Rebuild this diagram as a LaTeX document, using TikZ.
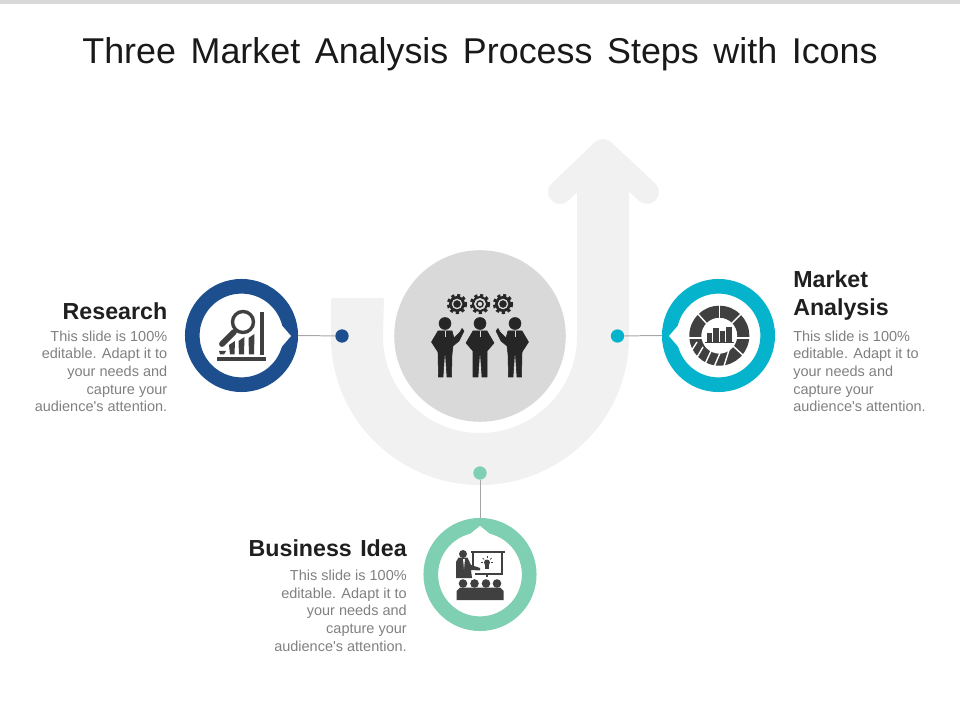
\documentclass[tikz,border=0pt]{standalone}
\usepackage{fontspec}
\setmainfont{Liberation Sans}
\definecolor{researchblue}{HTML}{1D4F8F}
\definecolor{marketcyan}{HTML}{06B3CC}
\definecolor{ideagreen}{HTML}{7FCFB2}
\definecolor{arrowgrey}{HTML}{F1F1F1}
\definecolor{icondark}{HTML}{404040}
\definecolor{peopledark}{HTML}{262626}
\tikzset{
    ringnode/.style={circle, fill=white, line width=10.4pt, minimum size=70pt, inner sep=0pt},
    dotnode/.style={circle, minimum size=9.5pt, inner sep=0pt},
    linkline/.style={draw=black!35, line width=0.7pt},
    titletext/.style={font=\fontsize{25.5}{30}\selectfont\spaceskip 10.4pt\relax, text=black!90, inner sep=0pt},
    headtext/.style={font=\bfseries\fontsize{16.5}{20}\selectfont\spaceskip 6pt\relax, text=black!88, inner sep=0pt},
    bodytext/.style={font=\fontsize{10.3}{12.5}\selectfont, text=black!50, inner sep=0pt},
    person/.style={fill=peopledark, draw=peopledark, line join=round},
}
\begin{document}
\begin{tikzpicture}[x=0.025cm, y=-0.025cm]
    \useasboundingbox (0,0) rectangle (960,720);
    \fill [black!15] (0,0) rectangle (960,4);
    \node [titletext] (title) at (480,54) {Three Market Analysis Process Steps with Icons};

    % big arrow
    \fill [arrowgrey, rounded corners=1pt] (331,298) -- (331,336) arc [start angle=180, end angle=0, radius=149] -- (629,170) -- (603,151) -- (577,170) -- (577,336) arc [start angle=0, end angle=180, radius=97] -- (384,298) -- cycle;
    \draw [arrowgrey, line width=17pt, line cap=round, line join=round] (560,192) -- (603,151) -- (647,192);
    \node [circle, fill=black!15, minimum size=122pt, inner sep=0pt] (centre) at (480,336) {};

    % rings
    \node [ringnode, draw=researchblue] (research) at (241.5,335.5) {};
    \node [ringnode, draw=marketcyan] (market) at (718.5,335.5) {};
    \node [ringnode, draw=ideagreen] (idea) at (480,574.5) {};
    \fill [white] (278,321) -- (291,336) -- (278,351) -- cycle;
    \fill [white] (682,321) -- (669,336) -- (682,351) -- cycle;
    \fill [white] (465,538) -- (480,526) -- (495,538) -- cycle;

    \node [dotnode, fill=researchblue] (researchdot) at (342,336) {};
    \node [dotnode, fill=marketcyan] (marketdot) at (617.5,336) {};
    \node [dotnode, fill=ideagreen] (ideadot) at (480,473) {};
    \draw [linkline] (research.east) -- (researchdot);
    \draw [linkline] (market.west) -- (marketdot);
    \draw [linkline] (idea.north) -- (ideadot);

    % gears
    \draw [peopledark, line width=2.2pt, dash pattern=on 2.2pt off 1.9pt] (457,304) circle [radius=8.6];
    \draw [peopledark, line width=2.2pt, dash pattern=on 2.2pt off 1.9pt] (480,304) circle [radius=8.6];
    \draw [peopledark, line width=2.2pt, dash pattern=on 2.2pt off 1.9pt] (503,304) circle [radius=8.6];
    \fill [peopledark] (457,304) circle [radius=8];
    \fill [peopledark] (480,304) circle [radius=8];
    \fill [peopledark] (503,304) circle [radius=8];
    \draw [black!15, line width=0.9pt] (457,304) circle [radius=4.6];
    \draw [black!15, line width=1.3pt] (480,304) circle [radius=5];
    \fill [black!15] (480,304) circle [radius=2.2];
    \draw [black!15, line width=0.9pt] (503,304) circle [radius=4.6];

    % people
    \fill [person] (445,323.5) circle [radius=6];
    \fill [person] (480,323.5) circle [radius=6];
    \fill [person] (515,323.5) circle [radius=6];
    \filldraw [person] (438,331) -- (452,331) -- (454,338) -- (460,332) -- (462,328.5) -- (464,331) -- (459,341) -- (453,346) -- (452,354) -- (451.5,377) -- (447,377) -- (445.5,355) -- (444.5,355) -- (443,377) -- (438.5,377) -- (438,352) -- (431.5,342) -- cycle;
    \filldraw [person] (473,331) -- (487,331) -- (494,343) -- (487,351) -- (487,377) -- (482,377) -- (480.5,355) -- (479.5,355) -- (478,377) -- (473,377) -- (473,351) -- (466,343) -- cycle;
    \filldraw [person] (522,331) -- (508,331) -- (506,338) -- (500,332) -- (498,328.5) -- (496,331) -- (501,341) -- (507,346) -- (508,354) -- (508.5,377) -- (513,377) -- (514.5,355) -- (515.5,355) -- (517,377) -- (521.5,377) -- (522,352) -- (528.5,342) -- cycle;
    \draw [black!15, line width=0.4pt] (445,331) -- (445,337);
    \draw [black!15, line width=0.4pt] (480,331) -- (480,337);
    \draw [black!15, line width=0.4pt] (515,331) -- (515,337);

    % research icon
    \draw [icondark, line width=2.4pt] (243,322) circle [radius=10.5];
    \draw [icondark, line width=4.2pt, line cap=round] (234,332) -- (222,344);
    \fill [icondark] (260,312) rectangle (264,355);
    \fill [icondark] (217,357) rectangle (266,361);
    \fill [icondark] (219,351) -- (226,351) -- (224,354.5) -- (220,354.5) -- cycle;
    \fill [icondark] (229,345) -- (235,341) -- (234.5,354.5) -- (230,354.5) -- cycle;
    \fill [icondark] (238.5,341) -- (244.5,337) -- (244,354.5) -- (239,354.5) -- cycle;
    \fill [icondark] (248.5,338) -- (254.5,334) -- (254,354.5) -- (249,354.5) -- cycle;

    % market icon
    \fill [icondark, even odd rule] (719.3,335.7) circle [radius=30] (719.3,335.7) circle [radius=18];
    \draw [white, line width=1pt] (719.3,305) -- (719.3,318);
    \draw [white, line width=1pt] (698,314) -- (707,324);
    \draw [white, line width=1pt] (741,314) -- (731,324);
    \draw [white, line width=1pt] (689,338) -- (702,338);
    \draw [white, line width=1pt] (750,338) -- (737,338);
    \draw [white, line width=1pt] (697,342) -- (690,353);
    \draw [white, line width=1pt] (703,347) -- (696,359);
    \draw [white, line width=1pt] (711,351) -- (705,364);
    \draw [white, line width=1pt] (720,353) -- (714,367);
    \draw [white, line width=1pt] (729,350) -- (724,366);
    \draw [white, line width=1pt] (733,346) -- (745,357);
    \fill [icondark] (707,333) rectangle (712,342);
    \fill [icondark] (713,328) rectangle (718.5,342);
    \fill [icondark] (719.5,331) rectangle (725,342);
    \fill [icondark] (726,327) rectangle (732,342);
    \fill [icondark] (705,342) rectangle (733.5,343.5);

    % idea icon
    \fill [icondark] (471,551) rectangle (505,553);
    \draw [icondark, line width=1pt] (473,553) -- (473,567);
    \draw [icondark, line width=1pt] (502,553) -- (502,574) -- (475,574);
    \draw [icondark, line width=1pt] (487,574) -- (487,577);
    \fill [icondark] (487,562.5) circle [radius=3];
    \fill [icondark] (485.3,565) rectangle (488.7,568.5);
    \draw [icondark, line width=0.5pt] (487,556) -- (487,558);
    \draw [icondark, line width=0.5pt] (481,562.5) -- (483,562.5);
    \draw [icondark, line width=0.5pt] (491,562.5) -- (493,562.5);
    \draw [icondark, line width=0.5pt] (482.5,558) -- (484,559.5);
    \draw [icondark, line width=0.5pt] (491.5,558) -- (490,559.5);
    \fill [icondark] (463,554) circle [radius=4];
    \fill [icondark] (458.5,557.5) -- (467.5,557.5) -- (471,565) -- (480,568) -- (480,570.5) -- (471,570) -- (472,578) -- (456,578) -- (456,562) -- cycle;
    \fill [black!5] (463,559) -- (465,559) -- (464,569) -- cycle;
    \fill [icondark] (463,583.5) circle [radius=4.3];
    \fill [icondark] (474.5,583.5) circle [radius=4.3];
    \fill [icondark] (486,583.5) circle [radius=4.3];
    \fill [icondark] (497,583.5) circle [radius=4.3];
    \fill [icondark] (456.5,600) -- (456.5,591) -- (460,587.5) -- (500,587.5) -- (503.5,591) -- (503.5,600) -- cycle;

    % texts
    \node [headtext, anchor=east] (researchhead) at (167.5,311) {Research};
    \node [bodytext, anchor=north east, align=right] (researchbody) at (167.5,330.5) {This slide is 100\%\\editable. Adapt it to\\your needs and\\capture your\\audience\textquotesingle s attention.};
    \node [headtext, anchor=north west, align=left] (markethead) at (793,270) {Market\\Analysis};
    \node [bodytext, anchor=north west, align=left] (marketbody) at (793,330.5) {This slide is 100\%\\editable. Adapt it to\\your needs and\\capture your\\audience\textquotesingle s attention.};
    \node [headtext, anchor=east] (ideahead) at (407,548) {Business Idea};
    \node [bodytext, anchor=north east, align=right] (ideabody) at (407,570) {This slide is 100\%\\editable. Adapt it to\\your needs and\\capture your\\audience\textquotesingle s attention.};
\end{tikzpicture}
\end{document}
